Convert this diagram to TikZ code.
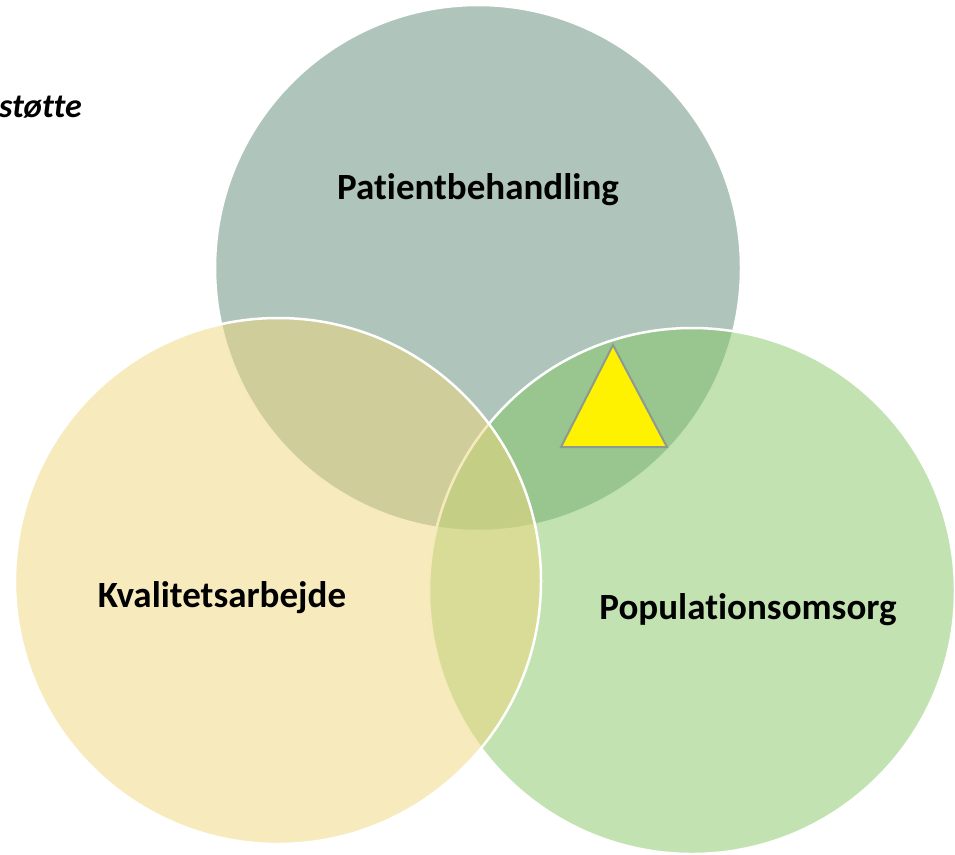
\documentclass[tikz,border=0pt]{standalone}
\usepackage{fontspec}
\setmainfont{Carlito}[Ligatures=NoCommon]
\usetikzlibrary{calc, positioning}
\definecolor{patientgreen}{HTML}{5F8B77}
\definecolor{popgreen}{HTML}{85C763}
\definecolor{kvalyellow}{HTML}{EFD77B}
\definecolor{trianglegray}{HTML}{8C9A92}
\tikzset{
  venn/.style={draw=white, line width=2.5pt, fill opacity=0.5},
  lbl/.style={font=\bfseries\fontsize{37}{40}\selectfont, text=black, inner sep=0pt}
}

\begin{document}
\begin{tikzpicture}[x=1pt,y=-1pt]
\useasboundingbox (0,0) rectangle (955,854);

\draw[venn, fill=patientgreen] (478,268) circle (263pt);
\draw[venn, fill=popgreen] (692,591) circle (263pt);
\draw[venn, fill=kvalyellow] (278,581) circle (263pt);

\node[lbl] (patient) at (478,190) {Patientbehandling};
\node[lbl] (kval) at (222,598) {Kvalitetsarbejde};
\node[lbl] (pop) at (748,610) {Populationsomsorg};
\node[lbl, font=\bfseries\itshape\fontsize{34}{38}\selectfont, anchor=base east] (stotte) at (82,117) {støtte};

\draw[line width=2pt, draw=trianglegray, fill=yellow, line join=miter] (613,345) -- (561,447) -- (667,447) -- cycle;
\end{tikzpicture}
\end{document}
